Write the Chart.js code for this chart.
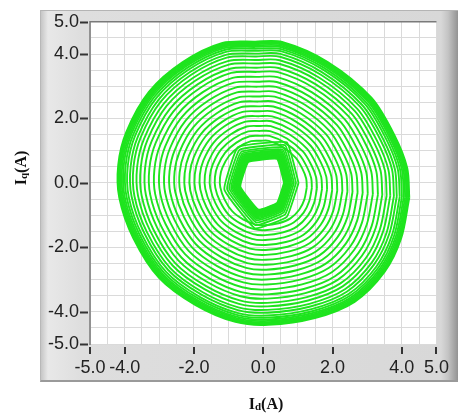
<!DOCTYPE html>
<html>
<head>
<meta charset="utf-8">
<script src="https://cdn.jsdelivr.net/npm/chart.js@4.4.0/dist/chart.umd.min.js"></script>
<style>
  body { margin: 0; background: #fff; width: 462px; height: 415px; overflow: hidden; position: relative; }
  #frame {
    position: absolute; left: 40px; top: 10px; width: 418px; height: 372px;
    box-sizing: border-box;
    border-top: 1px solid #b4b4b4; border-left: 1px solid #b8b8b8; border-bottom: 2px solid #9a9a9a;
    background: linear-gradient(to right, #c6c6c6 0px, #e8e8e8 7px, #dedede 40px, #d8d8d8 400px, #c4c4c4 407px, #8e8e8e 418px);
  }
  #chart { position: absolute; left: 0; top: 0; }
  .title { position: absolute; font: bold 16px "Liberation Serif", "DejaVu Serif", serif; color: #111; text-align: center; white-space: nowrap; }
  .title sub { font-size: 11px; vertical-align: -1px; }
  #ytitle { left: -19px; top: 158px; width: 80px; height: 20px; line-height: 20px; transform: rotate(-90deg); }
  #xtitle { left: 216px; top: 394px; width: 100px; height: 20px; line-height: 20px; }
</style>
</head>
<body>
<div id="frame"></div>
<canvas id="chart" width="462" height="415"></canvas>
<div class="title" id="ytitle">I<sub>q</sub>(A)</div>
<div class="title" id="xtitle">I<sub>d</sub>(A)</div>
<script>
// tick labels shown on both axes, grid drawn every 0.5
const xTickLabels = [-5, -4, -2, 0, 2, 4, 5];
const yTickLabels = [-5, -4, -2, 0, 2, 4, 5];
const gridValues = [-5, -4.5, -4, -3.5, -3, -2.5, -2, -1.5, -1, -0.5, 0, 0.5, 1, 1.5, 2, 2.5, 3, 3.5, 4, 4.5, 5];

// outer edge of the current trajectory (Id, Iq)
const outerId = [4.19, 4.13, 3.76, 3.11, 1.85, 0.54, -0.23, -1.17, -2.31, -3.28, -3.93, -4.16, -4.13, -3.73, -2.99, -1.94, -0.80, 0.14, 1.48, 2.62, 3.48, 3.96];
const outerIq = [-0.46, 0.46, 1.48, 2.62, 3.73, 4.35, 4.36, 4.32, 3.73, 2.81, 1.57, 0.56, -0.46, -1.70, -2.93, -3.77, -4.29, -4.38, -4.17, -3.67, -2.75, -1.70];
// scale of each loop relative to the outer edge
const loopScales = [0.30, 0.335, 0.37, 0.405, 0.44, 0.475, 0.51, 0.545, 0.58, 0.615, 0.65, 0.685, 0.72, 0.755, 0.79, 0.82, 0.85, 0.875, 0.90, 0.92, 0.94, 0.955, 0.968, 0.978, 0.987, 0.994, 1.0, 1.006];

// hexagonal hole in the middle
const holeId = [0.60, 0.40, -0.43, -0.66, -0.14, 0.40];
const holeIq = [0.00, 0.74, 0.65, -0.12, -0.83, -0.62];
const holeScales = [1.0, 1.03, 1.06, 1.09, 1.12, 1.15, 1.18, 1.21, 1.25, 1.29, 1.34, 1.40, 1.48, 1.58, 1.70];

const green = 'rgb(30, 228, 30)';

function loop(xs, ys, s) {
    const pts = xs.map((x, i) => ({ x: x * s, y: ys[i] * s }));
    pts.push(pts[0]);
    return pts;
}

const datasets = [];
holeScales.forEach(s => {
    datasets.push({ data: loop(holeId, holeIq, s), showLine: true, pointRadius: 0, borderColor: green, borderWidth: 1.8, tension: 0.1 });
});
loopScales.forEach(s => {
    datasets.push({ data: loop(outerId, outerIq, s), showLine: true, pointRadius: 0, borderColor: green, borderWidth: 1.9, tension: 0.3 });
});

// white plot area, dark left/top edge and the LabVIEW style tick dashes
const plotFrame = {
    id: 'plotFrame',
    beforeDraw(chart) {
        const a = chart.chartArea, c = chart.ctx;
        c.save();
        c.fillStyle = '#fff';
        c.fillRect(a.left, a.top, a.right - a.left, a.bottom - a.top);
        c.restore();
    },
    afterDraw(chart) {
        const a = chart.chartArea, c = chart.ctx;
        const xs = chart.scales.x, ys = chart.scales.y;
        c.save();
        c.strokeStyle = '#7a7a7a';
        c.lineWidth = 1.5;
        c.beginPath();
        c.moveTo(a.left, a.bottom + 1);
        c.lineTo(a.left, a.top);
        c.lineTo(a.right, a.top);
        c.stroke();
        c.strokeStyle = '#333';
        c.lineWidth = 2;
        c.beginPath();
        yTickLabels.forEach(v => {
            const py = Math.round(ys.getPixelForValue(v)) + 0.5;
            c.moveTo(a.left - 10, py);
            c.lineTo(a.left - 2, py);
        });
        xTickLabels.forEach(v => {
            const px = Math.round(xs.getPixelForValue(v));
            c.moveTo(px, a.bottom + 3);
            c.lineTo(px, a.bottom + 10);
        });
        c.stroke();
        c.restore();
    }
};

const ctx = document.getElementById('chart').getContext('2d');
const chart = new Chart(ctx, {
    type: 'scatter',
    data: { datasets: datasets },
    options: {
        responsive: false,
        animation: false,
        layout: { padding: { left: 40, top: 21, right: 18, bottom: 31 } },
        plugins: { legend: { display: false }, tooltip: { enabled: false } },
        scales: {
            x: {
                min: -5, max: 5,
                afterBuildTicks: s => { s.ticks = gridValues.map(v => ({ value: v })); },
                afterFit: s => { s.height = 40; },
                border: { display: false },
                grid: { color: '#dadada', lineWidth: 1, drawTicks: false },
                ticks: {
                    autoSkip: false, maxRotation: 0, padding: 13,
                    color: '#222',
                    font: { family: 'Liberation Sans', size: 18 },
                    callback: v => xTickLabels.includes(v) ? v.toFixed(1) : ''
                }
            },
            y: {
                min: -5, max: 5,
                afterBuildTicks: s => { s.ticks = gridValues.map(v => ({ value: v })); },
                afterFit: s => { s.width = 50; },
                border: { display: false },
                grid: { color: '#dadada', lineWidth: 1, drawTicks: false },
                ticks: {
                    autoSkip: false, padding: 11,
                    color: '#222',
                    font: { family: 'Liberation Sans', size: 18 },
                    callback: v => yTickLabels.includes(v) ? v.toFixed(1) : ''
                }
            }
        }
    },
    plugins: [plotFrame]
});
</script>
</body>
</html>
